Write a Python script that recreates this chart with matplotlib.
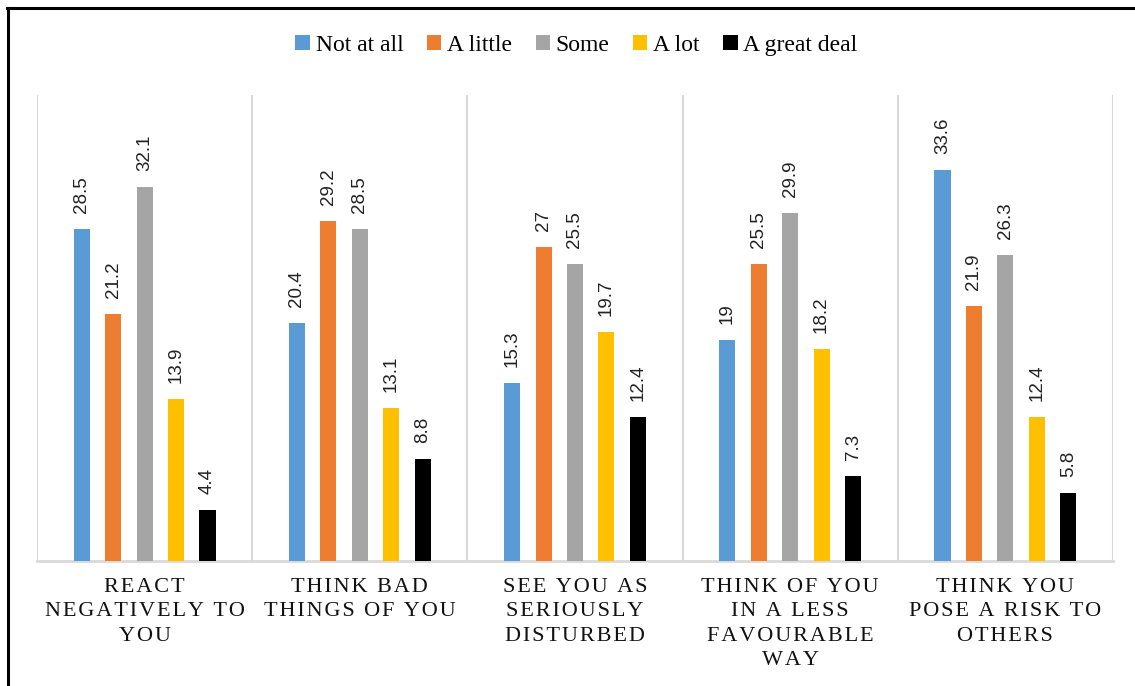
import matplotlib.pyplot as plt
import numpy as np
from matplotlib.lines import Line2D

categories = [
    "REACT\nNEGATIVELY TO\nYOU",
    "THINK BAD\nTHINGS OF YOU",
    "SEE YOU AS\nSERIOUSLY\nDISTURBED",
    "THINK OF YOU\nIN A LESS\nFAVOURABLE\nWAY",
    "THINK YOU\nPOSE A RISK TO\nOTHERS",
]
series_names = ["Not at all", "A little", "Some", "A lot", "A great deal"]
not_at_all = [28.5, 20.4, 15.3, 19, 33.6]
a_little = [21.2, 29.2, 27, 25.5, 21.9]
some = [32.1, 28.5, 25.5, 29.9, 26.3]
a_lot = [13.9, 13.1, 19.7, 18.2, 12.4]
great_deal = [4.4, 8.8, 12.4, 7.3, 5.8]

series = [not_at_all, a_little, some, a_lot, great_deal]
colors = ["#5B9BD5", "#ED7D31", "#A5A5A5", "#FFC000", "#000000"]


def spaced(text):
    # widen letter spacing with hair spaces between characters
    lines = []
    for line in text.split("\n"):
        lines.append("\u200a".join(line))
    return "\n".join(lines)


fig = plt.figure(figsize=(11.35, 6.86), dpi=100)
ax = fig.add_axes([0.0326, 0.1822, 0.948, 0.679])

x = np.arange(len(categories))
step = 0.146
width = 0.075
for i, (vals, name, col) in enumerate(zip(series, series_names, colors)):
    pos = x + (i - 2) * step
    bars = ax.bar(pos, vals, width=width, color=col, label=name, zorder=3)
    for b, v in zip(bars, vals):
        ax.annotate(f"{v:g}", (b.get_x() + b.get_width() / 2, v),
                    xytext=(0, 11.5), textcoords="offset points",
                    rotation=90, ha="center", va="bottom",
                    fontsize=13.5, family="Liberation Sans", color="#222222")

ax.set_xlim(-0.5, len(categories) - 0.5)
ax.set_ylim(0, 40)
for sep in np.arange(-0.5, len(categories), 1.0):
    ax.axvline(sep, color="#D9D9D9", lw=1.5, zorder=1)

for s in ["top", "right", "left"]:
    ax.spines[s].set_visible(False)
ax.spines["bottom"].set_color("#D9D9D9")
ax.spines["bottom"].set_linewidth(2)
ax.set_yticks([])
ax.set_xticks(x)
ax.set_xticklabels([spaced(c) for c in categories], family="Liberation Serif",
                   fontsize=16, linespacing=1.4, color="#111111")
ax.tick_params(axis="x", length=0, pad=12)

leg = fig.legend(loc="center", bbox_to_anchor=(0.508, 0.934), ncol=5, frameon=False,
                 prop={"family": "Liberation Serif", "size": 17},
                 handlelength=0.6, handleheight=0.6, handletextpad=0.25,
                 columnspacing=1.0)

# outer frame, top and left edges only
fig.add_artist(Line2D([7 / 1135, 1], [1 - 7.5 / 686, 1 - 7.5 / 686],
                      transform=fig.transFigure, color="black", lw=2.2))
fig.add_artist(Line2D([8 / 1135, 8 / 1135], [0, 1 - 7.5 / 686],
                      transform=fig.transFigure, color="black", lw=2.2))

fig.savefig("out.png", dpi=100)
